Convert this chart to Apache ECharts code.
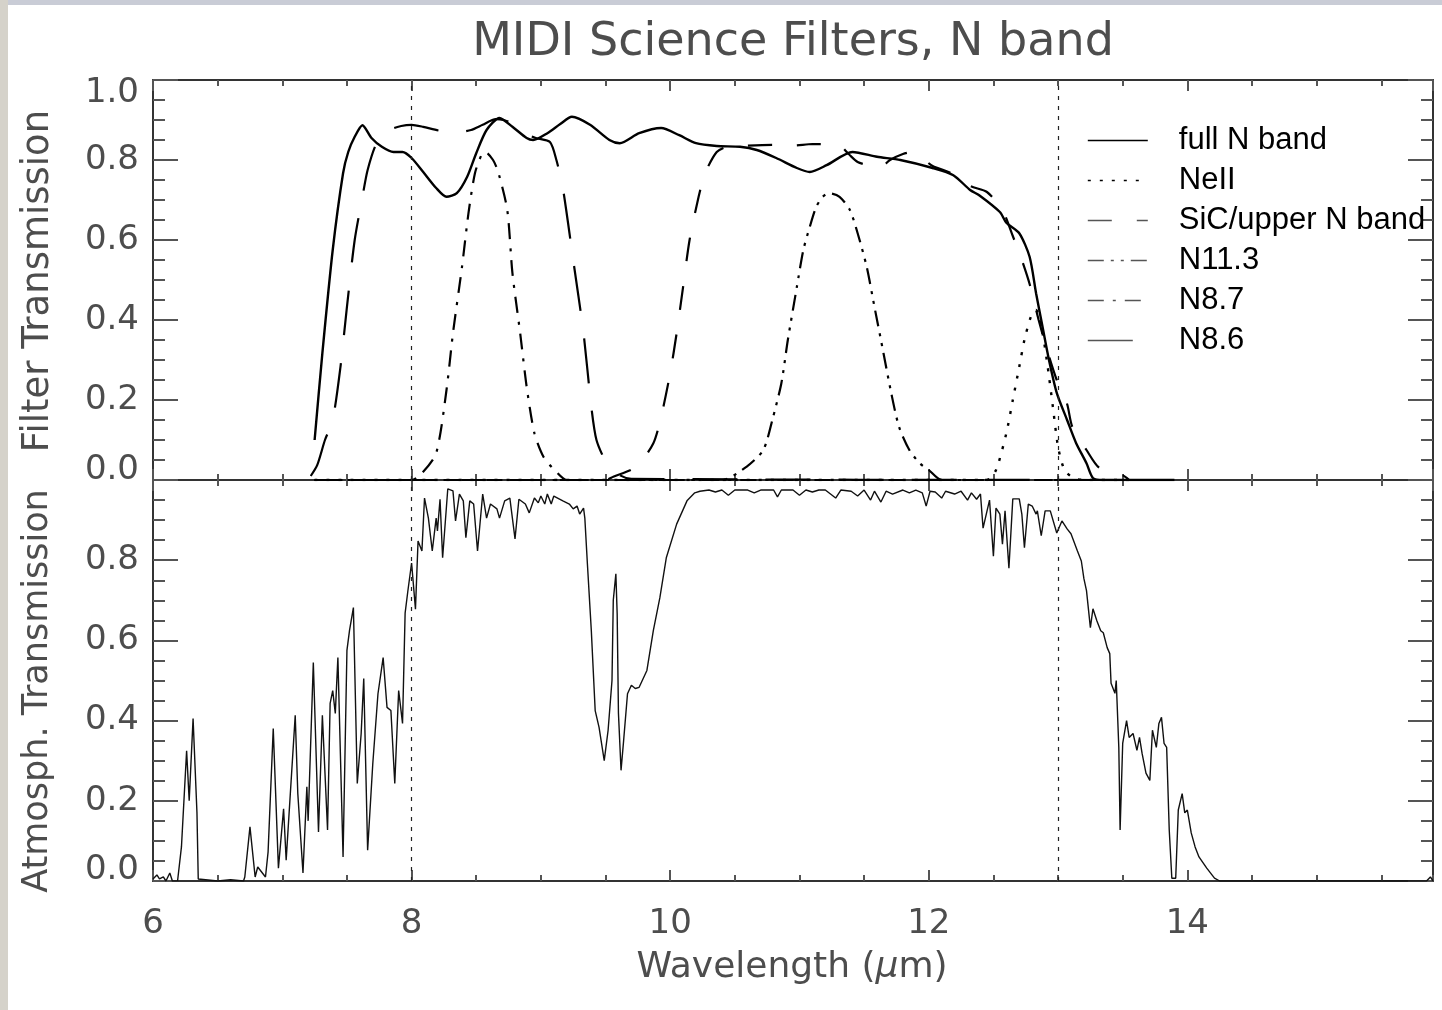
<!DOCTYPE html>
<html>
<head>
<meta charset="utf-8">
<script src="https://cdn.jsdelivr.net/npm/echarts@6/dist/echarts.min.js"></script>
<style>
html,body{margin:0;padding:0;background:#fff;}
#chart{width:1442px;height:1010px;}
</style>
</head>
<body>
<div id="chart"></div>
<script>
// ---------------- DATA ----------------
const xTickLabels = [6, 8, 10, 12, 14];
const yTickLabels = [0.0, 0.2, 0.4, 0.6, 0.8, 1.0];
const markerLines = [8, 13];

const fullN_wl = [7.25,7.31,7.39,7.47,7.51,7.56,7.62,7.69,7.77,7.86,7.93,8.0,8.09,8.19,8.27,8.35,8.43,8.5,8.58,8.68,8.78,8.89,8.94,9.05,9.15,9.24,9.38,9.53,9.61,9.76,9.93,10.07,10.2,10.36,10.54,10.67,10.82,10.98,11.08,11.21,11.41,11.6,11.78,12.03,12.19,12.32,12.39,12.55,12.6,12.7,12.78,12.83,12.88,12.93,12.99,13.07,13.14,13.22,13.27,13.35,13.9];
const fullN_tr = [0.10,0.317,0.575,0.767,0.82,0.858,0.887,0.855,0.833,0.82,0.82,0.805,0.77,0.73,0.708,0.717,0.758,0.817,0.875,0.905,0.883,0.855,0.85,0.867,0.89,0.908,0.888,0.85,0.842,0.867,0.88,0.862,0.842,0.835,0.833,0.825,0.805,0.78,0.77,0.787,0.82,0.808,0.80,0.78,0.762,0.725,0.712,0.67,0.643,0.617,0.558,0.467,0.383,0.30,0.218,0.15,0.092,0.042,0.005,0.0,0.0];

const neII_wl = [7.25,12.45,12.52,12.6,12.65,12.7,12.74,12.79,12.83,12.88,12.92,12.96,13.0,13.05,13.12,13.2,13.55];
const neII_tr = [0.0,0.0,0.025,0.117,0.2,0.283,0.35,0.408,0.425,0.367,0.283,0.183,0.083,0.025,0.005,0.0,0.0];

const sic_wl = [7.25,9.5,9.56,9.74,9.87,9.93,10.0,10.05,10.1,10.15,10.22,10.27,10.36,10.44,10.6,10.8,10.95,11.1,11.3,11.38,11.45,11.55,11.62,11.7,11.8,11.87,11.95,12.03,12.19,12.32,12.45,12.57,12.65,12.72,12.78,12.85,12.92,12.99,13.07,13.11,13.22,13.32,13.5,13.55];
const sic_tr = [0.0,0.0,0.008,0.033,0.092,0.158,0.267,0.367,0.483,0.6,0.708,0.767,0.82,0.833,0.836,0.838,0.836,0.84,0.838,0.815,0.795,0.785,0.78,0.8,0.815,0.82,0.805,0.785,0.765,0.735,0.72,0.675,0.61,0.55,0.49,0.40,0.32,0.25,0.19,0.133,0.075,0.03,0.012,0.0];

const n113_wl = [7.25,10.4,10.59,10.72,10.79,10.86,10.91,10.98,11.03,11.08,11.13,11.18,11.23,11.31,11.39,11.45,11.52,11.58,11.65,11.71,11.77,11.85,11.93,12.0,12.1,13.5];
const n113_tr = [0.0,0.0,0.033,0.075,0.15,0.242,0.35,0.483,0.575,0.633,0.683,0.708,0.717,0.708,0.675,0.617,0.533,0.433,0.317,0.217,0.133,0.075,0.042,0.025,0.0,0.0];

const n87_wl = [7.25,8.0,8.08,8.19,8.27,8.32,8.39,8.44,8.49,8.54,8.57,8.63,8.67,8.74,8.78,8.84,8.89,8.95,9.02,9.12,9.2,13.5];
const n87_tr = [0.0,0.0,0.017,0.067,0.225,0.367,0.533,0.667,0.767,0.812,0.82,0.8,0.77,0.675,0.517,0.367,0.233,0.117,0.058,0.02,0.0,0.0];

const n86_wl = [7.22,7.27,7.33,7.39,7.45,7.5,7.56,7.62,7.66,7.73,7.83,7.92,8.0,8.09,8.22,8.37,8.46,8.55,8.65,8.71,8.79,8.86,8.96,9.07,9.12,9.17,9.25,9.33,9.39,9.43,9.51,9.61,9.7,13.5];
const n86_tr = [0.01,0.037,0.1,0.15,0.283,0.433,0.6,0.708,0.775,0.842,0.875,0.885,0.888,0.883,0.873,0.87,0.875,0.888,0.902,0.9,0.89,0.87,0.855,0.845,0.80,0.73,0.55,0.367,0.183,0.1,0.042,0.012,0.003,0.0];

const atm_wl = [6.0,6.03,6.05,6.08,6.1,6.13,6.15,6.19,6.22,6.26,6.28,6.31,6.34,6.35,6.5,6.6,6.7,6.71,6.75,6.79,6.81,6.87,6.89,6.93,6.97,7.01,7.03,7.10,7.12,7.16,7.19,7.2,7.24,7.28,7.31,7.35,7.37,7.39,7.41,7.43,7.47,7.5,7.52,7.55,7.58,7.61,7.63,7.66,7.7,7.74,7.78,7.81,7.84,7.87,7.9,7.93,7.95,7.97,8.0,8.03,8.05,8.08,8.1,8.13,8.16,8.19,8.2,8.22,8.24,8.28,8.32,8.34,8.37,8.4,8.42,8.45,8.48,8.51,8.55,8.58,8.61,8.66,8.68,8.72,8.76,8.8,8.83,8.88,8.91,8.95,8.98,9.0,9.03,9.05,9.08,9.1,9.17,9.22,9.25,9.28,9.3,9.33,9.34,9.36,9.39,9.42,9.45,9.49,9.52,9.55,9.56,9.58,9.59,9.6,9.62,9.64,9.67,9.7,9.73,9.76,9.82,9.87,9.92,9.97,10.05,10.13,10.19,10.23,10.3,10.35,10.4,10.45,10.5,10.6,10.65,10.7,10.8,10.83,10.86,10.95,11.0,11.05,11.1,11.15,11.2,11.28,11.32,11.4,11.45,11.5,11.55,11.58,11.63,11.67,11.72,11.8,11.85,11.9,11.95,11.98,12.01,12.05,12.1,12.13,12.2,12.25,12.3,12.33,12.37,12.4,12.42,12.47,12.5,12.52,12.55,12.57,12.59,12.62,12.65,12.7,12.72,12.74,12.77,12.8,12.83,12.84,12.87,12.9,12.94,12.99,13.03,13.07,13.1,13.15,13.18,13.2,13.22,13.25,13.27,13.3,13.33,13.35,13.38,13.4,13.41,13.44,13.45,13.47,13.48,13.5,13.53,13.55,13.58,13.61,13.63,13.65,13.68,13.71,13.73,13.76,13.78,13.8,13.82,13.84,13.86,13.88,13.91,13.93,13.96,13.98,14.0,14.03,14.06,14.09,14.15,14.21,14.25,15.85,15.88,15.9];
const atm_tr = [0.005,0.015,0.005,0.01,0.0,0.02,0.0,0.0,0.085,0.325,0.2,0.405,0.17,0.005,0.0,0.003,0.0,0.01,0.135,0.01,0.035,0.01,0.072,0.38,0.032,0.18,0.052,0.413,0.218,0.02,0.235,0.15,0.545,0.122,0.413,0.127,0.443,0.475,0.418,0.557,0.06,0.575,0.625,0.682,0.243,0.368,0.505,0.077,0.293,0.467,0.557,0.433,0.425,0.243,0.475,0.393,0.668,0.72,0.793,0.678,0.848,0.823,0.955,0.905,0.823,0.905,0.873,0.952,0.806,0.978,0.973,0.898,0.965,0.948,0.856,0.948,0.94,0.823,0.965,0.905,0.94,0.928,0.905,0.948,0.955,0.853,0.952,0.94,0.918,0.955,0.943,0.96,0.94,0.965,0.94,0.96,0.948,0.94,0.928,0.935,0.915,0.93,0.905,0.79,0.625,0.425,0.383,0.3,0.376,0.5,0.7,0.766,0.667,0.418,0.276,0.35,0.467,0.488,0.48,0.483,0.525,0.625,0.706,0.806,0.89,0.948,0.968,0.972,0.975,0.97,0.975,0.962,0.975,0.975,0.968,0.975,0.975,0.958,0.975,0.975,0.962,0.975,0.97,0.975,0.975,0.955,0.975,0.972,0.96,0.975,0.95,0.972,0.945,0.972,0.965,0.975,0.968,0.975,0.968,0.935,0.972,0.97,0.955,0.972,0.965,0.972,0.95,0.968,0.952,0.965,0.88,0.95,0.81,0.93,0.915,0.84,0.923,0.78,0.953,0.953,0.915,0.831,0.94,0.935,0.915,0.923,0.861,0.923,0.923,0.868,0.898,0.878,0.866,0.823,0.798,0.754,0.724,0.632,0.679,0.649,0.624,0.619,0.582,0.567,0.493,0.468,0.5,0.333,0.127,0.343,0.4,0.358,0.368,0.326,0.358,0.318,0.269,0.251,0.376,0.333,0.393,0.408,0.343,0.333,0.127,0.007,0.007,0.177,0.218,0.17,0.177,0.12,0.085,0.06,0.032,0.007,0.0,0.0,0.01,0.0];

// ---------------- BUILD ----------------
function zip(a, b) { return a.map((v, i) => [v, b[i]]); }

const chart = echarts.init(document.getElementById('chart'), null, {renderer: 'canvas', devicePixelRatio: 1});

const AX = '#333', TK = '#555', TXT = '#4d4d4d';
const FONT = 'DejaVu Sans';
const X_MIN = 6, X_MAX = 15.9;

function xAx(grid, pos, interval, len, showLine, labels) {
  return {
    type: 'value', gridIndex: grid, position: pos, min: X_MIN, max: X_MAX, interval: interval,
    axisLine: {show: showLine, onZero: false, lineStyle: {color: AX, width: 2}},
    axisTick: {show: true, inside: true, length: len, lineStyle: {color: TK, width: 2}},
    splitLine: {show: false},
    axisLabel: labels ? {
      show: true, margin: 26, color: TXT, fontFamily: FONT, fontSize: 34,
      showMaxLabel: false,
      formatter: v => (xTickLabels.indexOf(v) >= 0 ? String(v) : '')
    } : {show: false}
  };
}

function yAx(grid, pos, labels, hideTop) {
  return {
    type: 'value', gridIndex: grid, position: pos, min: 0, max: 1, interval: 0.2,
    axisLine: {show: true, onZero: false, lineStyle: {color: AX, width: 2}},
    axisTick: {show: true, inside: true, length: 25, lineStyle: {color: TK, width: 2}},
    minorTick: {show: true, splitNumber: 4, length: 12, lineStyle: {color: TK, width: 2}},
    splitLine: {show: false}, minorSplitLine: {show: false},
    axisLabel: labels ? {
      show: true, margin: 14, color: TXT, fontFamily: FONT, fontSize: 34,
      formatter: function (v) {
        const idx = yTickLabels.findIndex(t => Math.abs(t - v) < 1e-6);
        if (idx < 0) return '';
        const s = yTickLabels[idx].toFixed(1);
        if (idx === yTickLabels.length - 1) return hideTop ? '' : '{t|' + s + '}';
        if (idx === 0) return '{b|' + s + '}';
        return '{n|' + s + '}';
      },
      rich: {
        t: {padding: [26, 0, 0, 0]},
        b: {padding: [0, 0, hideTop ? 22 : 20, 0]},
        n: {}
      }
    } : {show: false}
  };
}

function filt(name, wl, tr, type, width) {
  return {
    name: name, type: 'line', xAxisIndex: 0, yAxisIndex: 0,
    data: zip(wl, tr), symbol: 'none', showSymbol: false, smooth: 0.25,
    itemStyle: {color: '#000'},
    lineStyle: {color: '#000', width: width || 2.2, type: type},
    animation: false, silent: true, z: 3
  };
}

const vMark = {
  silent: true, symbol: ['none', 'none'], animation: false,
  label: {show: false},
  lineStyle: {color: '#222', width: 1.2, type: [4, 6]},
  data: markerLines.map(v => ({xAxis: v}))
};

const series = [
  Object.assign(filt('full N band', fullN_wl, fullN_tr, 'solid', 2.4), {markLine: vMark}),
  filt('NeII', neII_wl, neII_tr, [3, 9], 2.4),
  filt('SiC/upper N band', sic_wl, sic_tr, [24, 25]),
  filt('N11.3', n113_wl, n113_tr, [16, 7, 3, 7, 3, 7]),
  filt('N8.7', n87_wl, n87_tr, [16, 9, 3, 9]),
  filt('N8.6', n86_wl, n86_tr, [45, 28]),
  {
    name: 'atm', type: 'line', xAxisIndex: 2, yAxisIndex: 2,
    data: zip(atm_wl, atm_tr), symbol: 'none', showSymbol: false,
    lineStyle: {color: '#111', width: 1.4},
    animation: false, silent: true, markLine: vMark
  }
];

const option = {
  backgroundColor: '#ffffff',
  animation: false,
  grid: [
    {left: 153, right: 9, top: 80, height: 400},
    {left: 153, right: 9, top: 480, height: 401}
  ],
  xAxis: [
    xAx(0, 'bottom', 0.5, 6, true, false),
    xAx(0, 'top', 0.5, 6, true, false),
    xAx(1, 'bottom', 0.5, 6, true, false),
    xAx(1, 'top', 0.5, 6, true, false),
    xAx(0, 'bottom', 2, 11, false, false),
    xAx(0, 'top', 2, 11, false, false),
    xAx(1, 'bottom', 2, 11, false, true),
    xAx(1, 'top', 2, 11, false, false)
  ],
  yAxis: [
    yAx(0, 'left', true, false),
    yAx(0, 'right', false, false),
    yAx(1, 'left', true, true),
    yAx(1, 'right', false, true)
  ],
  legend: {
    orient: 'vertical', left: 1087, top: 125, padding: 0, selectedMode: false,
    itemWidth: 60, itemHeight: 14, itemGap: 9,
    textStyle: {fontFamily: 'Liberation Sans', fontSize: 31, color: '#000', padding: [0, 0, 0, 26]},
    itemStyle: {opacity: 0, borderWidth: 0},
    lineStyle: {width: 1.6},
    data: [
      {name: 'full N band'},
      {name: 'NeII'},
      {name: 'SiC/upper N band', lineStyle: {color: '#555'}},
      {name: 'N11.3', lineStyle: {color: '#555'}},
      {name: 'N8.7', lineStyle: {color: '#555'}},
      {name: 'N8.6', lineStyle: {color: '#555'}}
    ]
  },
  graphic: [
    {type: 'rect', shape: {x: 0, y: 0, width: 1442, height: 5}, style: {fill: '#c9ccd6'}, z: -10, silent: true},
    {type: 'rect', shape: {x: 0, y: 0, width: 8, height: 1010}, style: {fill: '#d5d2ca'}, z: -10, silent: true},
    {type: 'text', x: 793, y: 43, silent: true,
     style: {text: 'MIDI Science Filters, N band', fill: TXT, font: '46px "DejaVu Sans"',
             align: 'center', verticalAlign: 'middle', textAlign: 'center', textVerticalAlign: 'middle'}},
    {type: 'text', x: 792, y: 968, silent: true,
     style: {text: 'Wavelength ({i|μ}m)', fill: TXT, font: '36px "DejaVu Sans"',
             rich: {i: {fontStyle: 'italic', fontFamily: 'DejaVu Sans', fontSize: 36, fill: TXT}},
             align: 'center', verticalAlign: 'middle', textAlign: 'center', textVerticalAlign: 'middle'}},
    {type: 'text', x: 38, y: 281, rotation: Math.PI / 2, silent: true,
     style: {text: 'Filter Transmission', fill: TXT, font: '37px "DejaVu Sans"',
             align: 'center', verticalAlign: 'middle', textAlign: 'center', textVerticalAlign: 'middle'}},
    {type: 'text', x: 38, y: 691, rotation: Math.PI / 2, silent: true,
     style: {text: 'Atmosph. Transmission', fill: TXT, font: '35px "DejaVu Sans"',
             align: 'center', verticalAlign: 'middle', textAlign: 'center', textVerticalAlign: 'middle'}}
  ],
  series: series
};

chart.setOption(option);
</script>
</body>
</html>
